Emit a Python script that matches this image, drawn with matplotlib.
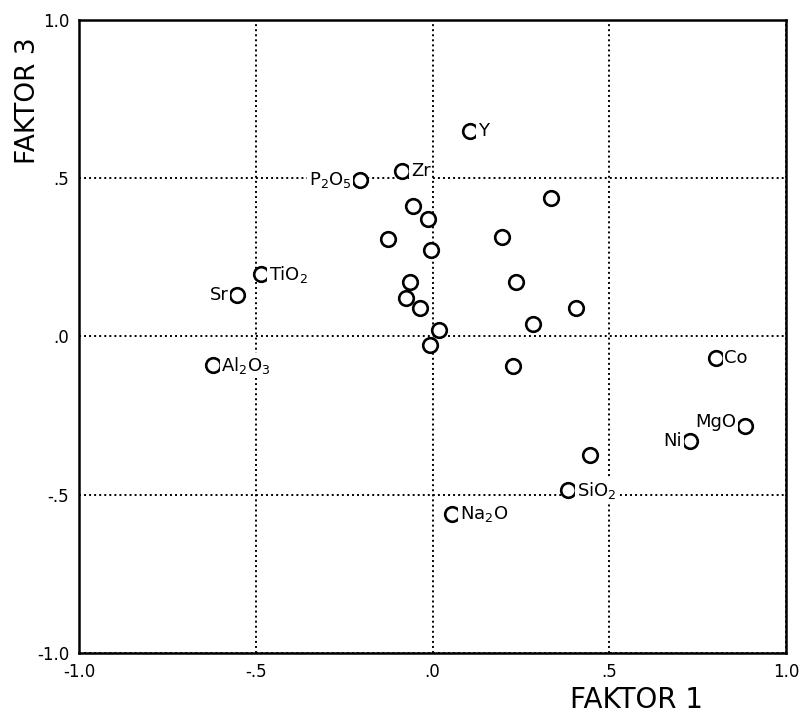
import matplotlib
matplotlib.use('Agg')
import matplotlib.pyplot as plt

# Factor loadings, factor 1 vs factor 3
faktor1 = [0.105, -0.085, -0.206, 0.336, -0.054, -0.014, -0.127, 0.198, -0.004,
           -0.486, -0.065, 0.237, -0.554, -0.076, -0.034, 0.407, 0.285, 0.017,
           -0.006, -0.621, 0.229, 0.802, 0.884, 0.729, 0.446, 0.384, 0.054]
faktor3 = [0.649, 0.523, 0.495, 0.436, 0.411, 0.370, 0.307, 0.313, 0.273,
           0.197, 0.172, 0.172, 0.132, 0.122, 0.091, 0.091, 0.041, 0.022,
           -0.028, -0.091, -0.094, -0.069, -0.282, -0.329, -0.373, -0.486, -0.561]
names = ['Y', 'Zr', 'P$_2$O$_5$', '', '', '', '', '', '',
         'TiO$_2$', '', '', 'Sr', '', '', '', '', '',
         '', 'Al$_2$O$_3$', '', 'Co', 'MgO', 'Ni', '', 'SiO$_2$', 'Na$_2$O']
# which side of the circle the name goes
left_side = {'P$_2$O$_5$', 'Sr', 'Ni', 'MgO'}

ticks = [-1.0, -0.5, 0.0, 0.5, 1.0]
tick_labels = ['-1.0', '-.5', '.0', '.5', '1.0']

fig = plt.figure(figsize=(8, 7.21), dpi=100)
ax = fig.add_axes([0.09875, 0.0943, 0.88375, 0.878])

ax.plot(faktor1, faktor3, 'o', ms=10.5, mfc='white', mec='black', mew=1.9, zorder=4)

for x, y, name in zip(faktor1, faktor3, names):
    if not name:
        continue
    if name in left_side:
        dx, ha = -6, 'right'
    else:
        dx, ha = 6, 'left'
    dy = 3 if name == 'MgO' else 0
    ax.annotate(name, (x, y), xytext=(dx, dy), textcoords='offset points',
                ha=ha, va='center', fontsize=13, zorder=5,
                bbox=dict(boxstyle='square,pad=0.1', fc='white', ec='none'))

ax.set_xlim(-1, 1)
ax.set_ylim(-1, 1)
ax.set_xticks(ticks)
ax.set_xticklabels(tick_labels)
ax.set_yticks(ticks)
ax.set_yticklabels(tick_labels)
ax.tick_params(length=0, labelsize=12, pad=7)
ax.grid(True, linestyle=(0, (1, 1.6)), color='black', linewidth=1.4)
for side in ax.spines.values():
    side.set_linewidth(1.8)

fig.text(0.795, 0.029, 'FAKTOR 1', ha='center', va='center', fontsize=20)
fig.text(0.035, 0.861, 'FAKTOR 3', ha='center', va='center', fontsize=19, rotation=90)

fig.savefig('out.png', dpi=100)
